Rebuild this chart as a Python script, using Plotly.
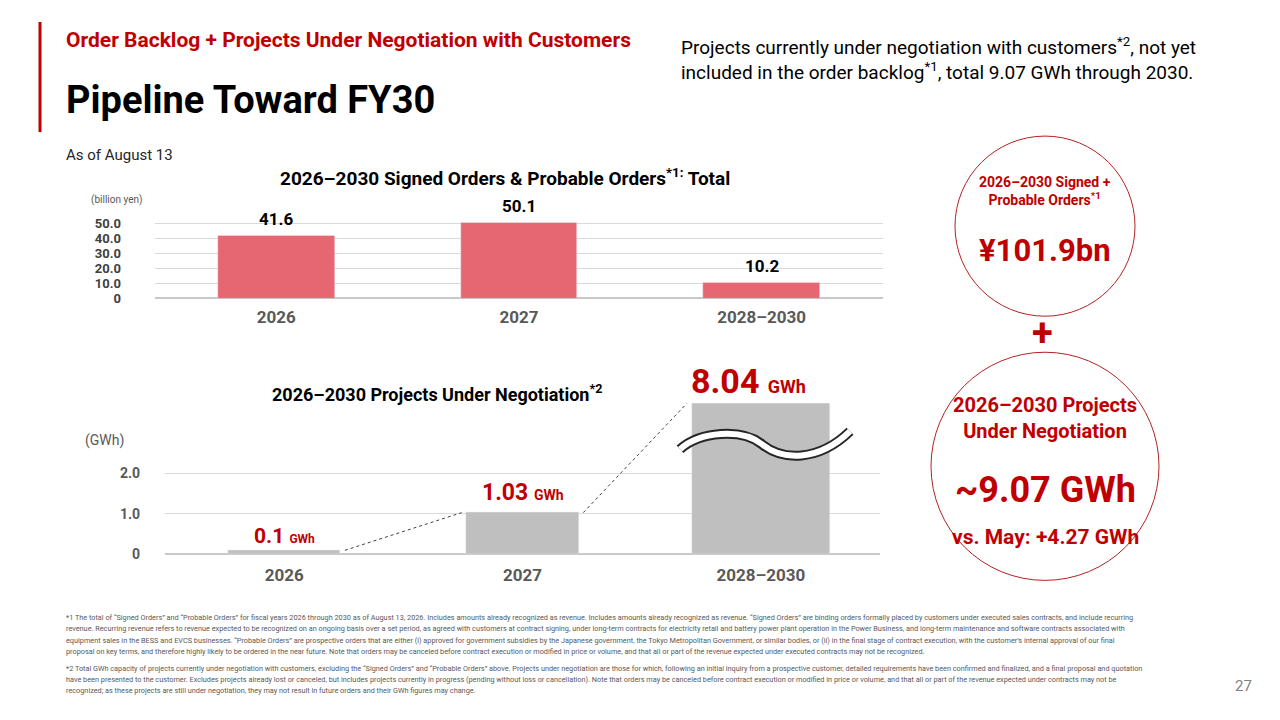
import plotly.graph_objects as go

# data
years = ["2026", "2027", "2028–2030"]
orders_bn = [41.6, 50.1, 10.2]
negotiation_gwh = [0.1, 1.03, 8.04]
top_tickvals = [0, 10, 20, 30, 40, 50]
top_ticktext = ["0", "10.0", "20.0", "30.0", "40.0", "50.0"]
bot_tickvals = [0, 1, 2]
bot_ticktext = ["0", "1.0", "2.0"]
total_bn = 101.9
total_gwh = 9.07
vs_may_gwh = 4.27

FONT = "Roboto, Liberation Sans Narrow, sans-serif"
RED = "#C00000"
BAR_RED = "#E66671"
BAR_GREY = "#BFBFBF"
GRID = "#D9D9D9"
# page body has an 8px margin all round, keep the figure inside the window
OFF = 8
W, H = 1280 - 2 * OFF, 720 - 2 * OFF
YS = 0.988   # the capture comes out slightly squashed vertically

bot_ymax = 3.73          # axis is broken above this; the tall bar is clipped
bar_w = [0.47, 0.47, 0.58]
xs = list(range(len(years)))


def px(x):
    return (x - OFF) / W


def py(y):
    return 1 - (y - OFF) / (H * YS)


def note(text, x, y, size, color="#000000", bold=False, xanchor="left", yanchor="middle", align="left"):
    if bold:
        text = "<b>" + text + "</b>"
    fig.add_annotation(text=text, x=px(x), y=py(y), xref="paper", yref="paper",
                       xanchor=xanchor, yanchor=yanchor, align=align, showarrow=False,
                       font=dict(family=FONT, size=size, color=color))


fig = go.Figure()

fig.add_trace(go.Bar(x=xs, y=orders_bn, width=0.48, marker_color=BAR_RED,
                     xaxis="x", yaxis="y", hoverinfo="skip"))
fig.add_trace(go.Bar(x=xs, y=negotiation_gwh, width=bar_w, marker_color=BAR_GREY,
                     xaxis="x2", yaxis="y2", hoverinfo="skip"))

# dotted connectors between the grey bars
shown = [min(v, bot_ymax) for v in negotiation_gwh]
for i in range(len(years) - 1):
    fig.add_trace(go.Scatter(
        x=[xs[i] + bar_w[i] / 2 + 0.02, xs[i + 1] - bar_w[i + 1] / 2 - 0.02],
        y=[shown[i], shown[i + 1]],
        mode="lines", line=dict(color="#404040", width=1, dash="dot"),
        xaxis="x2", yaxis="y2", hoverinfo="skip", cliponaxis=False))

# labels above bars
for i, v in enumerate(orders_bn):
    fig.add_annotation(text=f"<b>{v:.1f}</b>", x=xs[i], y=v, xref="x", yref="y",
                       yshift=17, showarrow=False,
                       font=dict(family=FONT, size=17, color="#000000"))

label_sizes = [(21, 12), (23, 14), (34, 18)]
label_shift = [14, 20, 22]
for i, v in enumerate(negotiation_gwh):
    big, small = label_sizes[i]
    num = f"{v:g}" if v < 1 else f"{v:.2f}"
    fig.add_annotation(
        text=f"<b>{num}</b> <span style='font-size:{small}px'><b>GWh</b></span>",
        x=xs[i], y=shown[i], xref="x2", yref="y2", yshift=label_shift[i],
        xshift=-12 if v > bot_ymax else 0,
        showarrow=False, font=dict(family=FONT, size=big, color=RED))

fig.update_layout(
    width=W, height=H,
    margin=dict(l=0, r=0, t=0, b=0),
    paper_bgcolor="white", plot_bgcolor="white",
    showlegend=False,
    font=dict(family=FONT),
    bargap=0,
    xaxis=dict(domain=[px(155), px(883)], range=[-0.5, 2.5], anchor="y",
               tickvals=xs, ticktext=years, showgrid=False, showline=False,
               zeroline=False, ticks="", ticklabelstandoff=7,
               tickfont=dict(family=FONT, size=17, color="#595959", weight="bold")),
    yaxis=dict(domain=[py(298), py(215.5)], range=[0, 55], anchor="x",
               tickvals=top_tickvals, ticktext=top_ticktext,
               gridcolor=GRID, gridwidth=1, zeroline=True, zerolinecolor="#C8C8C8",
               ticks="", ticklabelstandoff=33,
               tickfont=dict(family=FONT, size=13, color="#404040", weight="bold")),
    xaxis2=dict(domain=[px(165), px(880)], range=[-0.5, 2.5], anchor="y2",
                tickvals=xs, ticktext=years, showgrid=False, showline=False,
                zeroline=False, ticks="", ticklabelstandoff=9,
                tickfont=dict(family=FONT, size=17, color="#595959", weight="bold")),
    yaxis2=dict(domain=[py(554), py(403)], range=[0, bot_ymax], anchor="x2",
                tickvals=bot_tickvals, ticktext=bot_ticktext,
                gridcolor=GRID, gridwidth=1, zeroline=True, zerolinecolor="#C8C8C8",
                ticks="", ticklabelstandoff=24,
                tickfont=dict(family=FONT, size=14, color="#595959", weight="bold")),
)

# wave marking the broken axis
pts = [(680, 449), (700, 431), (742, 428), (762, 444), (782, 460), (818, 462), (850, 431)]
path = "M {} {} C {} {}, {} {}, {} {} C {} {}, {} {}, {} {}".format(
    *[v for p in pts for v in (px(p[0]), py(p[1]))])
fig.add_shape(type="path", path=path, xref="paper", yref="paper",
              line=dict(color="#262626", width=10), layer="above")
fig.add_shape(type="path", path=path, xref="paper", yref="paper",
              line=dict(color="white", width=6), layer="above")

# red accent bar
fig.add_shape(type="line", x0=px(40), x1=px(40), y0=py(22), y1=py(132),
              xref="paper", yref="paper", line=dict(color=RED, width=3))

# circles
fig.add_shape(type="circle", xref="paper", yref="paper",
              x0=px(955), x1=px(1135), y0=py(316), y1=py(136),
              line=dict(color="#B22222", width=1))
fig.add_shape(type="circle", xref="paper", yref="paper",
              x0=px(931), x1=px(1159), y0=py(580), y1=py(352),
              line=dict(color="#B22222", width=1))

# header
note("Order Backlog + Projects Under Negotiation with Customers", 64, 40, 21, RED, bold=True)
note("Pipeline Toward FY30", 64, 100, 38, "#000000", bold=True)
note("As of August 13", 64, 155, 15, "#262626")
note("Projects currently under negotiation with customers<sup>*2</sup>, not yet<br>"
     "included in the order backlog<sup>*1</sup>, total 9.07 GWh through 2030.",
     679, 59, 19, "#000000")

# chart titles / units
note("2026–2030 Signed Orders & Probable Orders<sup>*1:</sup> Total", 505, 177, 19,
     "#000000", bold=True, xanchor="center")
note("(billion yen)", 116, 200, 10, "#595959", xanchor="center")
note("2026–2030 Projects Under Negotiation<sup>*2</sup>", 437, 393, 18,
     "#000000", bold=True, xanchor="center")
note("(GWh)", 104, 440, 14, "#595959", xanchor="center")

# circle texts
CX = 1045
note("2026–2030 Signed +<br>Probable Orders<sup>*1</sup>", CX, 191, 14, RED, bold=True,
     xanchor="center", align="center")
note(f"¥{total_bn:.1f}bn", CX, 250, 31, RED, bold=True, xanchor="center")
note("+", 1042, 333, 38, RED, bold=True, xanchor="center")
note("2026–2030 Projects<br>Under Negotiation", CX, 418, 20, RED, bold=True,
     xanchor="center", align="center")
note(f"~{total_gwh:.2f} GWh", CX, 490, 36, RED, bold=True, xanchor="center")
note(f"vs. May: +{vs_may_gwh:.2f} GWh", CX, 537, 21, RED, bold=True, xanchor="center")

# footnotes, one line each
fn1 = ["*1 The total of “Signed Orders” and “Probable Orders” for fiscal years 2026 through 2030 as of August 13, 2026. Includes amounts already recognized as revenue. Includes amounts already recognized as revenue. “Signed Orders” are binding orders formally placed by customers under executed sales contracts, and include recurring",
       "revenue. Recurring revenue refers to revenue expected to be recognized on an ongoing basis over a set period, as agreed with customers at contract signing, under long-term contracts for electricity retail and battery power plant operation in the Power Business, and long-term maintenance and software contracts associated with",
       "equipment sales in the BESS and EVCS businesses. “Probable Orders” are prospective orders that are either (i) approved for government subsidies by the Japanese government, the Tokyo Metropolitan Government, or similar bodies, or (ii) in the final stage of contract execution, with the customer’s internal approval of our final",
       "proposal on key terms, and therefore highly likely to be ordered in the near future. Note that orders may be canceled before contract execution or modified in price or volume, and that all or part of the revenue expected under executed contracts may not be recognized."]
fn2 = ["*2 Total GWh capacity of projects currently under negotiation with customers, excluding the “Signed Orders” and “Probable Orders” above. Projects under negotiation are those for which, following an initial inquiry from a prospective customer, detailed requirements have been confirmed and finalized, and a final proposal and quotation",
       "have been presented to the customer. Excludes projects already lost or canceled, but includes projects currently in progress (pending without loss or cancellation). Note that orders may be canceled before contract execution or modified in price or volume, and that all or part of the revenue expected under contracts may not be",
       "recognized; as these projects are still under negotiation, they may not result in future orders and their GWh figures may change."]
for k, line in enumerate(fn1):
    note(line, 64, 617 + k * 11.5, 7.3, "#595959")
for k, line in enumerate(fn2):
    note(line, 64, 668 + k * 11, 7.3, "#595959")
note("27", 1243, 686, 15, "#7F7F7F", xanchor="center")

fig.write_html("out.html")
